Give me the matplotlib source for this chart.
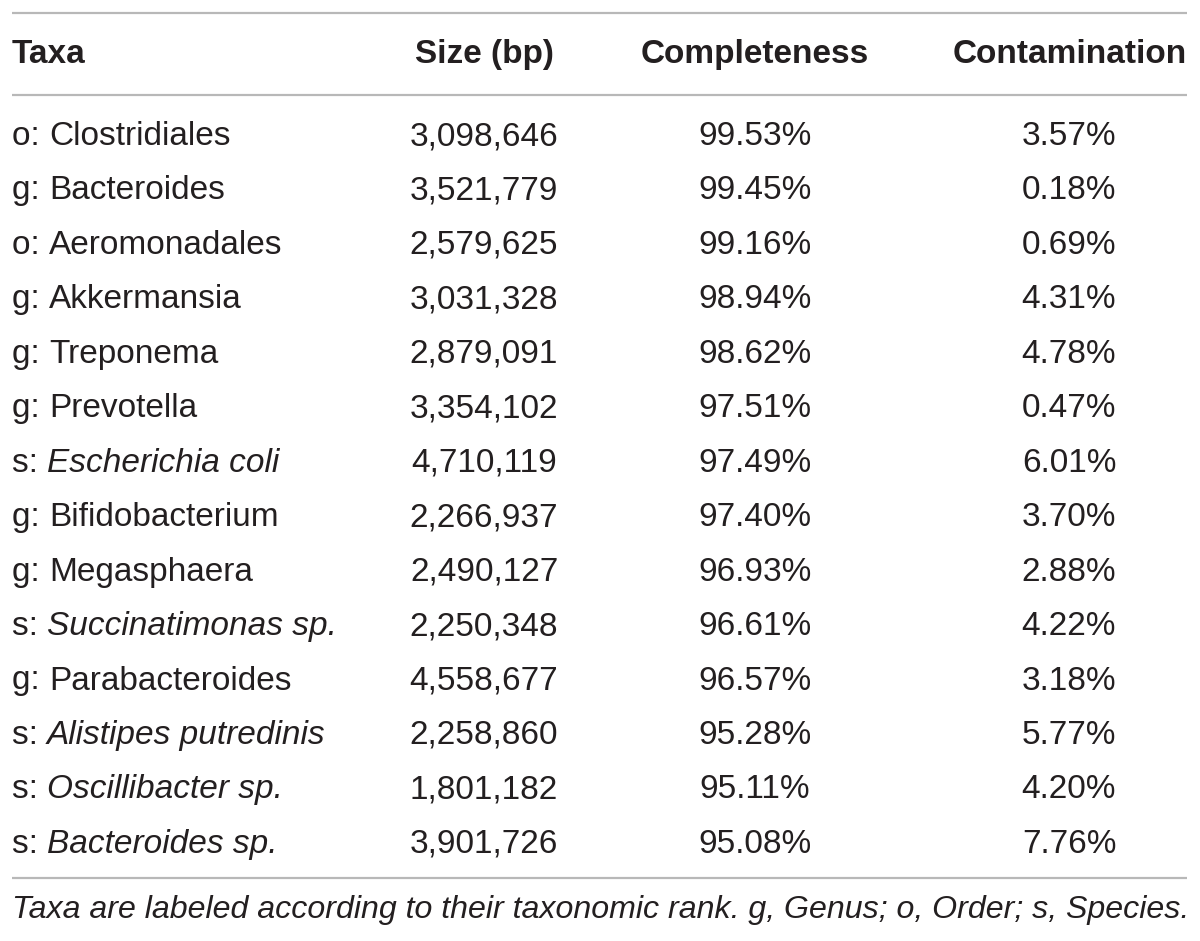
import matplotlib
matplotlib.use("Agg")
import matplotlib.pyplot as plt

taxa_prefix = ["o:", "g:", "o:", "g:", "g:", "g:", "s:", "g:", "g:", "s:", "g:", "s:", "s:", "s:"]
taxa_name = ["Clostridiales", "Bacteroides", "Aeromonadales", "Akkermansia", "Treponema",
             "Prevotella", "Escherichia coli", "Bifidobacterium", "Megasphaera",
             "Succinatimonas sp.", "Parabacteroides", "Alistipes putredinis",
             "Oscillibacter sp.", "Bacteroides sp."]
sizes_bp = [3098646, 3521779, 2579625, 3031328, 2879091, 3354102, 4710119, 2266937,
            2490127, 2250348, 4558677, 2258860, 1801182, 3901726]
completeness = [99.53, 99.45, 99.16, 98.94, 98.62, 97.51, 97.49, 97.40, 96.93, 96.61,
                96.57, 95.28, 95.11, 95.08]
contamination = [3.57, 0.18, 0.69, 4.31, 4.78, 0.47, 6.01, 3.70, 2.88, 4.22, 3.18, 5.77,
                 4.20, 7.76]
headers = ["Taxa", "Size (bp)", "Completeness", "Contamination"]
footnote = "Taxa are labeled according to their taxonomic rank. g, Genus; o, Order; s, Species."

W, H = 1200, 941
fig = plt.figure(figsize=(W / 100, H / 100), dpi=100)
ax = fig.add_axes([0, 0, 1, 1])
ax.set_xlim(0, W)
ax.set_ylim(H, 0)
ax.axis("off")

FONT = "Liberation Sans"
FS = 24
TXT = "#231f20"
LINE = "#b8b8b8"

x_left, x_right = 12, 1187
col_centers = [None, 484, 755, 1069]
header_y = 54
row0_y, row_step = 145, 54.45

for yl in (13, 94.5, 878):
    ax.plot([x_left, x_right], [yl, yl], color=LINE, lw=1.6, solid_capstyle="butt")

ax.text(x_left, header_y, headers[0], ha="left", va="center", fontsize=FS,
        fontweight="bold", family=FONT, color=TXT)
for h, xc in zip(headers[1:3], col_centers[1:3]):
    ax.text(xc, header_y, h, ha="center", va="center", fontsize=FS,
            fontweight="bold", family=FONT, color=TXT)
ax.text(x_right, header_y, headers[3], ha="right", va="center", fontsize=FS,
        fontweight="bold", family=FONT, color=TXT)

fig.canvas.draw()
renderer = fig.canvas.get_renderer()
inv = ax.transData.inverted()

for i in range(len(taxa_name)):
    y = row0_y + i * row_step
    p = ax.text(x_left, y, taxa_prefix[i] + " ", ha="left", va="baseline", fontsize=FS,
                family=FONT, color=TXT)
    bb = p.get_window_extent(renderer)
    x1 = inv.transform((bb.x1, bb.y0))[0]
    style = "italic" if taxa_prefix[i] == "s:" else "normal"
    ax.text(x1, y, taxa_name[i], ha="left", va="baseline", fontsize=FS,
            family=FONT, color=TXT, style=style)
    ax.text(col_centers[1], y, f"{sizes_bp[i]:,}", ha="center", va="baseline",
            fontsize=FS, family=FONT, color=TXT)
    ax.text(col_centers[2], y, f"{completeness[i]:.2f}%", ha="center", va="baseline",
            fontsize=FS, family=FONT, color=TXT)
    ax.text(col_centers[3], y, f"{contamination[i]:.2f}%", ha="center", va="baseline",
            fontsize=FS, family=FONT, color=TXT)

ax.text(x_left, 918, footnote, ha="left", va="baseline", fontsize=23.1, family=FONT,
        color=TXT, style="italic")

fig.savefig("out.png", dpi=100)
